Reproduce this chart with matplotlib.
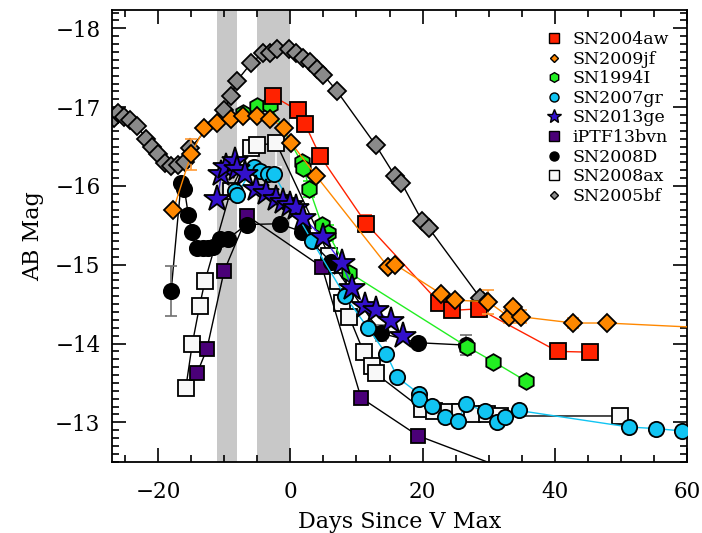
import numpy as np
import matplotlib
matplotlib.use("Agg")
import matplotlib.pyplot as plt
from matplotlib.ticker import MultipleLocator
from matplotlib.lines import Line2D

# ---------------- data ----------------
bf_day = [-26.7, -26.1, -25.2, -24.2, -23.1, -21.8, -20.9, -20.0, -18.9, -18.0, -17.0, -15.9, -15.1,
          -10.0, -8.9, -8.1, -5.9, -4.1, -3.1, -2.0, -0.2, 0.9, 2.0, 3.0, 4.0, 5.0, 7.0,
          12.9, 15.8, 16.8, 19.9, 20.9, 28.7, 29.7]
bf_mag = [-16.86, -16.92, -16.88, -16.84, -16.76, -16.60, -16.50, -16.40, -16.29, -16.25, -16.26, -16.31, -16.48,
          -16.97, -17.14, -17.33, -17.56, -17.69, -17.69, -17.74, -17.74, -17.69, -17.63, -17.57, -17.48, -17.41, -17.21,
          -16.52, -16.13, -16.04, -15.56, -15.47, -14.58, -14.53]

ax_day = [-15.8, -14.8, -13.7, -12.9, -9.0, -5.9, -5.1, -2.1, 5.9, 7.2, 7.8, 8.9, 11.1, 12.3, 12.9,
          19.9, 21.7, 24.0, 25.7, 27.5, 29.7, 31.7, 49.8]
ax_mag = [-13.43, -14.00, -14.48, -14.79, -15.94, -16.48, -16.52, -16.54, -15.11, -14.79, -14.51, -14.34, -13.89, -13.72, -13.62,
          -13.17, -13.14, -13.13, -13.13, -13.11, -13.10, -13.08, -13.08]
ax_err_lo = [0]*7 + [0.0] + [0]*15
ax_err_hi = [0]*7 + [0.3] + [0]*15

bvn_day = [-14.1, -12.6, -10.0, -6.5, 4.8, 10.7, 19.3, 35.0]
bvn_mag = [-13.62, -13.93, -14.92, -15.62, -14.97, -13.31, -12.83, -12.33]

d08_day = [-18.0, -16.5, -16.0, -15.4, -14.9, -14.1, -13.2, -12.4, -11.7, -10.6, -9.4, -6.6, -1.6, 1.7, 6.2, 13.7, 19.3, 26.5]
d08_mag = [-14.67, -16.04, -15.96, -15.63, -15.41, -15.21, -15.21, -15.21, -15.22, -15.33, -15.33, -15.51, -15.52, -15.42, -15.03, -14.13, -14.01, -13.98]
d08_err = [0.32, 0, 0, 0, 0, 0.04, 0.04, 0.04, 0.04, 0.05, 0.05, 0, 0, 0, 0, 0.1, 0, 0.13]

i94_day = [-7.2, -5.1, -3.1, 1.7, 2.0, 2.9, 4.8, 5.7, 8.9, 26.7, 30.7, 35.7]
i94_mag = [-16.93, -17.02, -17.03, -16.30, -16.23, -15.96, -15.50, -15.40, -14.90, -13.96, -13.77, -13.52]
i94_err = [0, 0, 0, 0, 0, 0.1, 0, 0.1, 0.06, 0, 0, 0]

aw_day = [-2.6, 1.1, 2.2, 4.5, 11.5, 22.5, 24.4, 28.5, 40.4, 45.3]
aw_mag = [-17.14, -16.96, -16.79, -16.38, -15.52, -14.52, -14.42, -14.44, -13.90, -13.89]
aw_err = [0, 0.06, 0, 0.04, 0.11, 0, 0, 0.1, 0.08, 0.08]

jf_day = [-17.7, -15.0, -13.0, -11.0, -9.0, -7.1, -5.1, -3.0, -1.0, 0.1, 3.9, 14.8, 15.9,
          22.8, 24.9, 29.9, 33.0, 33.7, 34.8, 42.8, 47.8, 80.0]
jf_mag = [-15.69, -16.40, -16.73, -16.80, -16.85, -16.89, -16.89, -16.85, -16.74, -16.55, -16.13, -14.97, -15.00,
          -14.63, -14.55, -14.53, -14.34, -14.46, -14.34, -14.26, -14.26, -14.13]
jf_err = [0, 0.2, 0, 0, 0, 0, 0, 0, 0, 0, 0, 0.05, 0,
          0, 0, 0.15, 0.08, 0, 0.08, 0.06, 0, 0]

gr_day = [-8.4, -8.1, -5.5, -4.5, -3.4, -2.5, 3.3, 8.3, 11.7, 14.5, 16.2, 19.5, 19.5,
          21.4, 23.4, 25.4, 26.5, 29.5, 31.2, 32.5, 34.5, 51.2, 55.3, 59.2]
gr_mag = [-15.94, -15.89, -16.24, -16.19, -16.15, -16.15, -15.30, -14.60, -14.20, -13.87, -13.57, -13.36, -13.29,
          -13.21, -13.07, -13.02, -13.23, -13.14, -13.01, -13.07, -13.15, -12.94, -12.92, -12.89]
gr_err = [0]*18 + [0.05] + [0]*5

ge_day = [-11.0, -10.4, -9.7, -8.4, -8.0, -6.9, -5.2, -3.6, -2.2, -1.1, -0.1, 0.9, 2.0, 4.9, 7.8, 9.4, 11.3, 12.9, 15.3, 17.0]
ge_mag = [-15.84, -16.15, -16.24, -16.32, -16.22, -16.15, -15.96, -15.91, -15.83, -15.80, -15.76, -15.72, -15.59, -15.35, -15.02, -14.70, -14.48, -14.42, -14.28, -14.10]

bands = [(-11.0, -8.0), (-5.1, 0.0)]

x_ticks = [-20, 0, 20, 40, 60]
y_ticks = [-18, -17, -16, -15, -14, -13]

# ---------------- figure ----------------
plt.rcParams['font.family'] = ['DejaVu Serif']
plt.rcParams['axes.unicode_minus'] = True

fig = plt.figure(figsize=(7.02, 5.33), dpi=100)
ax = fig.add_axes([0.159, 0.1338, 0.820, 0.847])

for b0, b1 in bands:
    ax.axvspan(b0, b1, color='#c8c8c8', lw=0, zorder=0)

mew = 1.3

def series(d, m, mk, fc, lc, ms, z, err=None, ecol=None):
    ax.plot(d, m, '-', color=lc, lw=1.0, zorder=z)
    ax.plot(d, m, mk, mfc=fc, mec='black', mew=mew, ms=ms, ls='none', zorder=z + 0.5)
    if err is not None:
        dd = [x for x, e in zip(d, err) if e > 0]
        mm = [y for y, e in zip(m, err) if e > 0]
        ee = [e for e in err if e > 0]
        ax.errorbar(dd, mm, yerr=ee, fmt='none', ecolor=ecol, elinewidth=1.2, capsize=4, capthick=1.2, zorder=z + 0.2)

series(bf_day, bf_mag, 'D', '#8a8a8a', 'black', 9.5, 2)
series(ax_day, ax_mag, 's', '#f8f8f8', 'black', 11, 3)
ax.errorbar([ax_day[7]], [ax_mag[7]], yerr=[[ax_err_lo[7]], [ax_err_hi[7]]], fmt='none', ecolor='white',
            elinewidth=1.2, capsize=4, capthick=1.2, zorder=3.2)
series(bvn_day, bvn_mag, 's', '#4a0078', 'black', 10, 4)
series(d08_day, d08_mag, 'o', 'black', 'black', 11, 5, d08_err, '#707070')
series(i94_day, i94_mag, 'h', '#22ee22', '#22ee22', 12, 6, i94_err, '#22ee22')
series(aw_day, aw_mag, 's', '#ff2200', '#ff2200', 12, 7, aw_err, '#ff3311')
series(jf_day, jf_mag, 'D', '#ff8800', '#ff8800', 9.5, 8, jf_err, '#ff9933')
series(gr_day, gr_mag, 'o', '#11c4f2', '#11c4f2', 11, 9, gr_err, '#11c4f2')
series(ge_day, ge_mag, '*', '#3311cc', '#4422ee', 20, 10)

# legend
handles = [
    Line2D([], [], marker='s', mfc='#ff2200', mec='black', ms=6.5, ls='none', mew=1.0),
    Line2D([], [], marker='D', mfc='#ff8800', mec='black', ms=4.5, ls='none', mew=1.0),
    Line2D([], [], marker='h', mfc='#22ee22', mec='black', ms=7, ls='none', mew=1.0),
    Line2D([], [], marker='o', mfc='#11c4f2', mec='black', ms=6.5, ls='none', mew=1.0),
    Line2D([], [], marker='*', mfc='#3311cc', mec='black', ms=10, ls='none', mew=1.0),
    Line2D([], [], marker='s', mfc='#4a0078', mec='black', ms=6.5, ls='none', mew=1.0),
    Line2D([], [], marker='o', mfc='black', mec='black', ms=6.5, ls='none', mew=1.0),
    Line2D([], [], marker='s', mfc='#f8f8f8', mec='black', ms=6.5, ls='none', mew=1.0),
    Line2D([], [], marker='D', mfc='#8a8a8a', mec='black', ms=4.5, ls='none', mew=1.0),
]
labels = ['SN2004aw', 'SN2009jf', 'SN1994I', 'SN2007gr', 'SN2013ge', 'iPTF13bvn', 'SN2008D', 'SN2008ax', 'SN2005bf']
leg = ax.legend(handles, labels, loc='upper left', bbox_to_anchor=(0.735, 0.977), frameon=False,
                fontsize=12.5, handlelength=1.0, handletextpad=0.6, labelspacing=0.15, borderaxespad=0.2)
leg.set_zorder(20)

ax.set_xlim(-27, 60)
ax.set_ylim(-12.5, -18.23)
ax.set_xticks(x_ticks)
ax.set_yticks(y_ticks)
ax.xaxis.set_minor_locator(MultipleLocator(5))
ax.yaxis.set_minor_locator(MultipleLocator(0.1))
ax.tick_params(which='both', direction='in', top=True, right=True, labelsize=15.5, width=1.2)
ax.tick_params(which='major', length=10)
ax.tick_params(axis='x', which='major', pad=14)
ax.tick_params(axis='y', which='major', pad=8)
ax.tick_params(which='minor', length=5)
for s in ax.spines.values():
    s.set_linewidth(1.3)

ax.set_xlabel('Days Since V Max', fontsize=16, labelpad=6)
ax.set_ylabel('AB Mag', fontsize=16, labelpad=8)

fig.savefig('out.png', dpi=100)
